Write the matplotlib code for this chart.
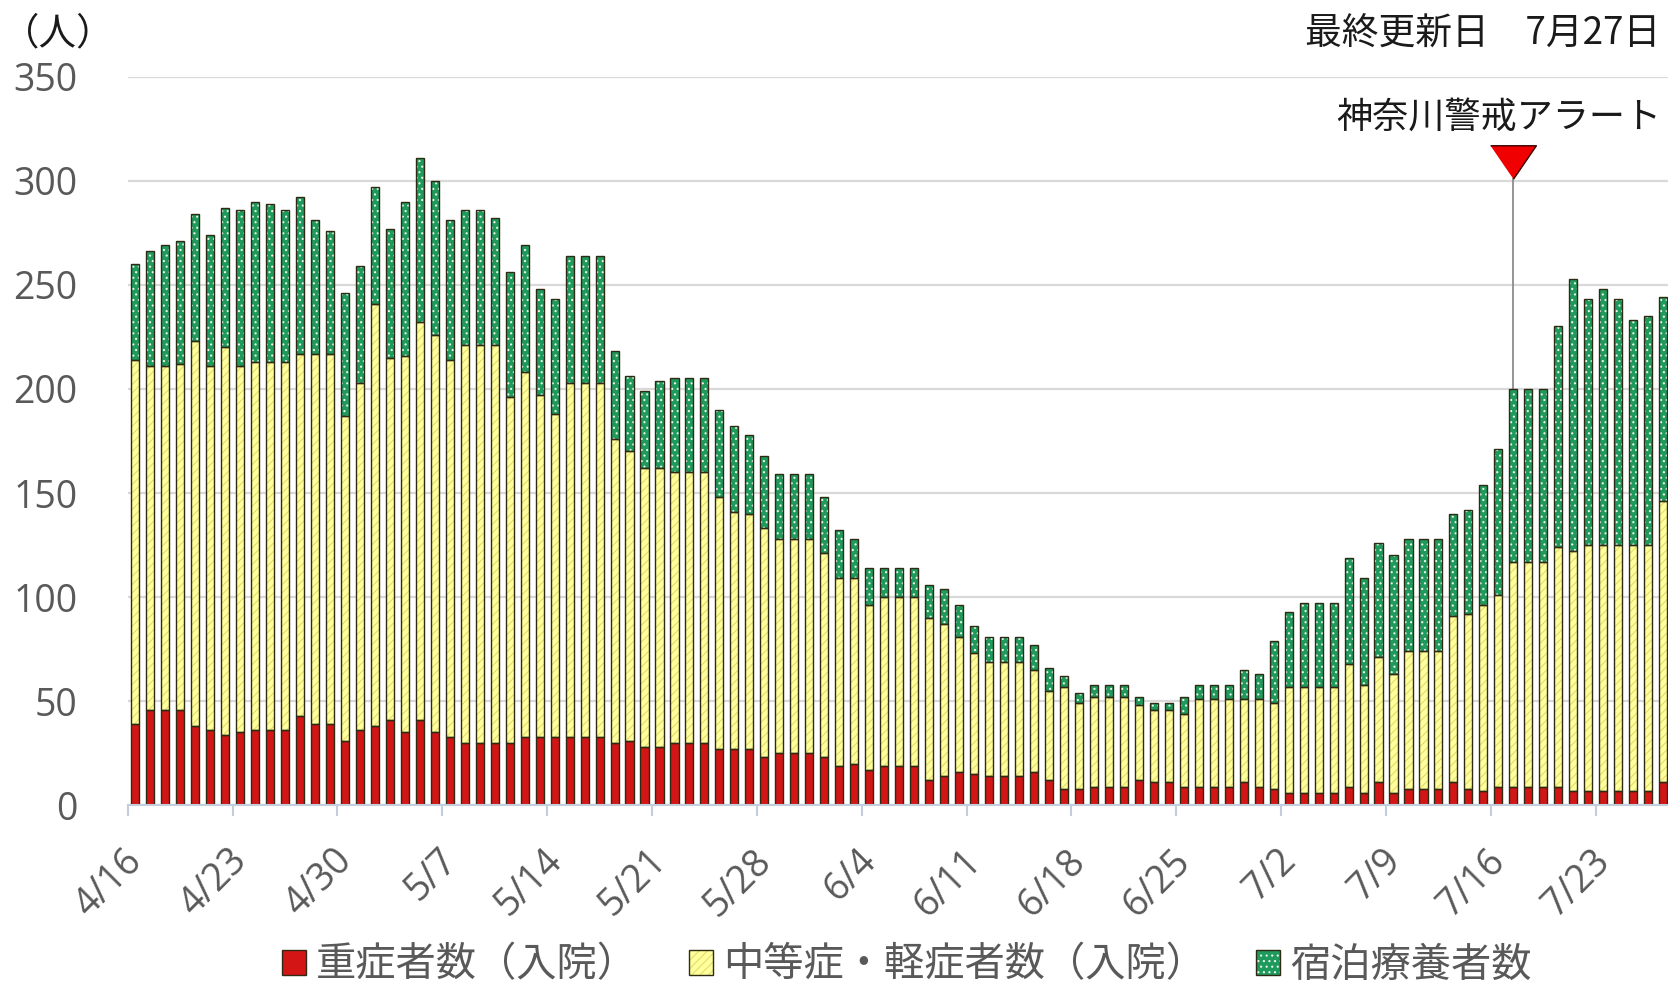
import matplotlib
matplotlib.use("Agg")
import matplotlib.pyplot as plt
import matplotlib.transforms as mtransforms
import numpy as np
import pandas as pd

plt.rcParams['font.family'] = ['Noto Sans CJK JP', 'DejaVu Sans']
plt.rcParams['hatch.linewidth'] = 0.8

# ---------------- data ----------------
dates = pd.date_range('2020-04-16', '2020-07-27', freq='D')
date_labels = [f"{d.month}/{d.day}" for d in dates]

severe = [39, 46, 46, 46, 38, 36, 34, 35, 36, 36, 36, 43, 39, 39, 31, 36, 38, 41,
          35, 41, 35, 33, 30, 30, 30, 30, 33, 33, 33, 33, 33, 33, 30, 31, 28, 28,
          30, 30, 30, 27, 27, 27, 23, 25, 25, 25, 23, 19, 20, 17, 19, 19, 19, 12,
          14, 16, 15, 14, 14, 14, 16, 12, 8, 8, 9, 9, 9, 12, 11, 11, 9, 9,
          9, 9, 11, 9, 8, 6, 6, 6, 6, 9, 6, 11, 6, 8, 8, 8,
          11, 8, 7, 9, 9, 9, 9, 9, 7, 7, 7, 7, 7, 7, 11]
moderate = [175, 165, 165, 166, 185, 175, 186, 176, 177, 177, 177, 174, 178, 178, 156, 167, 203, 174,
            181, 191, 191, 181, 191, 191, 191, 166, 175, 164, 155, 170, 170, 170, 146, 139, 134, 134,
            130, 130, 130, 121, 114, 113, 110, 103, 103, 103, 98, 90, 89, 79, 81, 81, 81, 78,
            73, 65, 58, 55, 55, 55, 49, 43, 49, 41, 43, 43, 43, 36, 35, 35, 35, 42,
            42, 42, 40, 42, 41, 51, 51, 51, 51, 59, 52, 60, 57, 66, 66, 66,
            80, 84, 89, 92, 108, 108, 108, 115, 115, 118, 118, 118, 118, 118, 135]
hotel = [46, 55, 58, 59, 61, 63, 67, 75, 77, 76, 73, 75, 64, 59, 59, 56, 56, 62,
         74, 79, 74, 67, 65, 65, 61, 60, 61, 51, 55, 61, 61, 61, 42, 36, 37, 42,
         45, 45, 45, 42, 41, 38, 35, 31, 31, 31, 27, 23, 19, 18, 14, 14, 14, 16,
         17, 15, 13, 12, 12, 12, 12, 11, 5, 5, 6, 6, 6, 4, 3, 3, 8, 7,
         7, 7, 14, 12, 30, 36, 40, 40, 40, 51, 51, 55, 57, 54, 54, 54,
         49, 50, 58, 70, 83, 83, 83, 106, 131, 118, 123, 118, 108, 110, 98]

series_names = ['重症者数（入院）', '中等症・軽症者数（入院）', '宿泊療養者数']
yticks = [0, 50, 100, 150, 200, 250, 300, 350]
alert_label = '神奈川警戒アラート'
alert_date = '7/17'
updated_text = '最終更新日　7月27日'
unit_text = '（人）'

# ---------------- figure ----------------
W, H, DPI = 1668, 986, 100
fig = plt.figure(figsize=(W / DPI, H / DPI), dpi=DPI)
ax_left = 127.7 / W
ax_bottom = 1 - 805.3 / H
ax_top = 1 - 76.6 / H
ax = fig.add_axes([ax_left, ax_bottom, 1 - ax_left, ax_top - ax_bottom])

x = np.arange(len(dates))
sev = np.array(severe)
mod = np.array(moderate)
hot = np.array(hotel)
bw = 0.54
outline = '#2e2a14'

styles = [
    dict(face='#D41515', hcol='#D41515', hatch=None),
    dict(face='#FFFF9E', hcol='#E3DC6A', hatch='////'),
    dict(face='#1E9A5C', hcol='#E8F5EC', hatch='...'),
]
bottoms = [np.zeros_like(sev), sev, sev + mod]
vals = [sev, mod, hot]
handles = []
for v, b, st in zip(vals, bottoms, styles):
    h1 = ax.bar(x, v, bw, bottom=b, color=st['face'], edgecolor=st['hcol'],
                linewidth=0, hatch=st['hatch'], zorder=3)
    h2 = ax.bar(x, v, bw, bottom=b, facecolor='none', edgecolor=outline,
                linewidth=1.0, zorder=4)
    handles.append((h1, h2))

ax.set_ylim(0, 350)
ax.set_xlim(-0.5, -0.5 + (W - 127.7) / 14.98)
ax.set_yticks(yticks)
ax.yaxis.grid(True, color='#D9D9D9', linewidth=1.6, zorder=0)
ax.set_axisbelow(True)
for s in ['top', 'right', 'left']:
    ax.spines[s].set_visible(False)
ax.spines['bottom'].set_color('#C3CEDC')
ax.spines['bottom'].set_linewidth(1.5)
ax.spines['bottom'].set_zorder(5)

tick_idx = list(range(0, len(dates), 7))
ax.set_xticks([i - 0.5 for i in tick_idx])
ax.set_xticklabels([date_labels[i] for i in tick_idx], rotation=45, ha='right',
                   va='center', rotation_mode='anchor',
                   fontfamily=['Open Sans', 'DejaVu Sans'], fontsize=27, color='#595959')
ax.tick_params(axis='x', direction='out', length=8, width=1.5, color='#C3CEDC', pad=28)
ax.tick_params(axis='y', length=0, pad=36)
shift = mtransforms.ScaledTranslation(0.09, 0, fig.dpi_scale_trans)
for lbl in ax.get_xticklabels():
    lbl.set_transform(lbl.get_transform() + shift)
for lbl in ax.get_yticklabels():
    lbl.set_fontfamily(['Open Sans', 'DejaVu Sans'])
    lbl.set_fontsize(27)
    lbl.set_color('#595959')

# alert annotation
ai = date_labels.index(alert_date)
atop = sev[ai] + mod[ai] + hot[ai]
tri = [(-1, 0.73), (1, 0.73), (0, -0.73)]
ax.plot([ai, ai], [atop, 301], color='#8C8C8C', linewidth=1.3, zorder=2, clip_on=False)
ax.plot([ai], [309], marker=tri, markersize=33, color='#F00000',
        markeredgecolor='#3a0000', markeredgewidth=1.0, zorder=6, clip_on=False)
ax.text(ai - 1.0, 330.5, alert_label, ha='center', va='center', fontsize=26,
        color='#1a1a1a', clip_on=False)

fig.text(1660 / W, 1 - 34 / H, updated_text, ha='right', va='center', fontsize=26.5,
         color='#1a1a1a')
fig.text(2 / W, 1 - 34 / H, unit_text, ha='left', va='center', fontsize=27, color='#1a1a1a')

leg = fig.legend(handles, series_names, loc='center', bbox_to_anchor=(0.5438, 0.0213),
                 ncol=3, frameon=False, fontsize=29, handlelength=0.6, handleheight=0.6,
                 handletextpad=0.25, columnspacing=1.25, borderpad=0, borderaxespad=0)
for t in leg.get_texts():
    t.set_color('#595959')

fig.savefig('out.png', dpi=DPI)
